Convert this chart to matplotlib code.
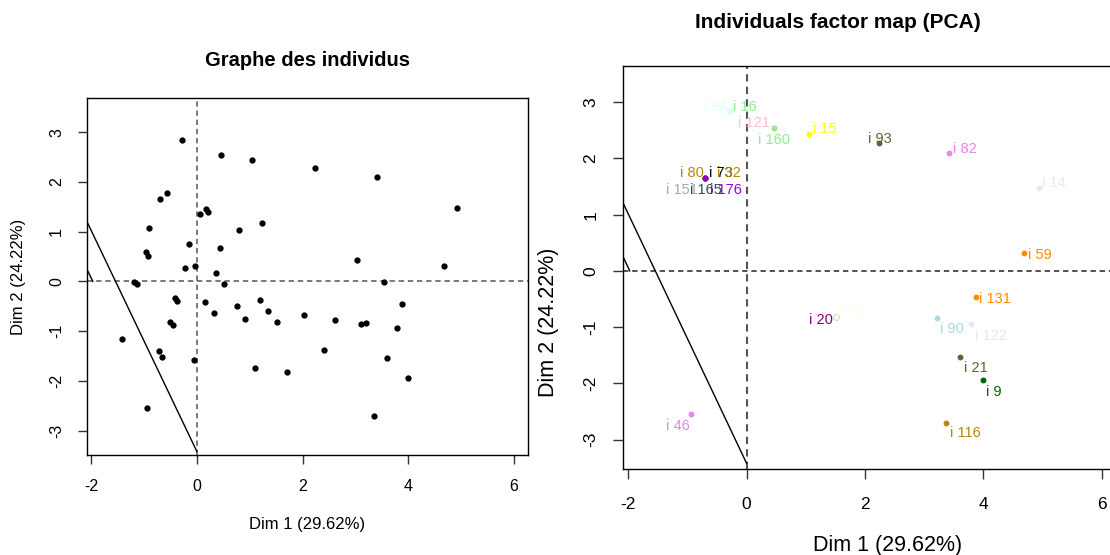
import matplotlib
matplotlib.use("Agg")
import matplotlib.pyplot as plt

plt.rcParams["font.family"] = ["Liberation Sans", "DejaVu Sans"]
plt.rcParams["axes.unicode_minus"] = False

# all individuals (left panel)
DIM1 = [-0.28, 0.46, 1.05, 2.23, -0.56, -0.70, 0.18, 0.21, 0.06, -0.90, 1.24,
        0.80, -0.15, 0.44, -0.97, -0.92, -0.23, -0.04, 0.36, -1.20, -1.13, 0.52,
        3.41, 4.93, 3.03, 4.68, 3.55,
        -0.42, -0.38, 0.16, 0.76, 1.19, 0.32, 0.92, 1.35, 1.51, 2.03, 2.62,
        -0.51, -0.46, -1.41, -0.71, -0.66, -0.06, 1.10, 1.71, -0.94,
        3.88, 3.11, 3.21, 3.79, 2.41, 3.60, 4.00, 3.36]
DIM2 = [2.84, 2.54, 2.44, 2.28, 1.77, 1.66, 1.46, 1.40, 1.35, 1.07, 1.17,
        1.03, 0.75, 0.67, 0.59, 0.51, 0.27, 0.31, 0.18, -0.01, -0.06, -0.05,
        2.10, 1.47, 0.43, 0.31, -0.02,
        -0.33, -0.40, -0.42, -0.50, -0.38, -0.64, -0.75, -0.60, -0.82, -0.68, -0.77,
        -0.82, -0.88, -1.16, -1.40, -1.51, -1.57, -1.75, -1.83, -2.55,
        -0.46, -0.86, -0.84, -0.94, -1.37, -1.53, -1.95, -2.70]

# selected individuals (right panel)
IND_NAMES = ["i 16", "i 94", "i 121", "i 160", "i 15", "i 93", "i 82", "i 14",
             "i 59", "i 131", "i 20", "i 71", "i 90", "i 122", "i 21", "i 9",
             "i 116", "i 46", "i 80", "i 73", "i 32", "i 151", "i 165", "i 176"]
IND_DIM1 = [-0.28, -0.28, 0.46, 0.46, 1.05, 2.23, 3.41, 4.93,
            4.68, 3.88, 1.51, 1.51, 3.21, 3.79, 3.60, 4.00,
            3.36, -0.94, -0.70, -0.70, -0.70, -0.70, -0.70, -0.70]
IND_DIM2 = [2.84, 2.84, 2.54, 2.54, 2.44, 2.28, 2.10, 1.47,
            0.31, -0.46, -0.82, -0.82, -0.84, -0.94, -1.53, -1.95,
            -2.70, -2.55, 1.66, 1.66, 1.66, 1.66, 1.66, 1.66]
IND_COLORS = ["lightgreen", "lightcyan", "pink", "lightgreen", "yellow",
              "darkolivegreen", "violet", "lavender", "darkorange", "darkorange",
              "darkmagenta", "lightyellow", "lightblue", "lavender",
              "darkolivegreen", "darkgreen", "darkgoldenrod", "violet",
              "darkgoldenrod", "black", "darkgoldenrod", "darkgray",
              "darkslategray", "darkviolet"]
# label shift from its point, pixels (right, down)
LABEL_SHIFT = [(14.7, -4.6), (-14.5, -4.6), (-20, -5), (0.5, 11.7), (16, -5),
               (1, -4), (16.5, -4.3), (15.5, -5), (16.5, 1.7), (19, 2.3),
               (-14.7, 2.7), (15.3, -5.6), (15.3, 11), (19.8, 12), (16, 11.3),
               (10.8, 11.3), (19.5, 10.3), (-13.2, 11.3), (-13.3, -5),
               (15.8, -5), (24.2, -5), (-23.3, 12.4), (0.8, 12.4), (20.8, 12.4)]

LINE_DIM1 = [-2.3, 0.0]
LINE_DIM2 = [1.69, -3.42]
SHORT_DIM1 = [-2.3, -1.97]
SHORT_DIM2 = [0.73, 0.0]

TICKS_X = [-2, 0, 2, 4, 6]
TICKS_Y = [-3, -2, -1, 0, 1, 2, 3]


def style_axes(ax, tick_size, tick_len, pad_x, pad_y):
    for s in ax.spines.values():
        s.set_linewidth(1.0)
        s.set_color("black")
    ax.set_xticks(TICKS_X)
    ax.set_yticks(TICKS_Y)
    ax.tick_params(axis="both", direction="out", length=tick_len, width=1.0,
                   color="#333333", labelsize=tick_size)
    ax.tick_params(axis="x", pad=pad_x)
    ax.tick_params(axis="y", pad=pad_y)
    for lab in ax.get_yticklabels():
        lab.set_rotation(90)
        lab.set_va("center")


def main() -> None:
    fig = plt.figure(figsize=(11.1, 5.55), dpi=100)

    # left: Graphe des individus
    ax1 = fig.add_axes([0.0784, 0.1802, 0.3973, 0.6432])
    ax1.axhline(0, color="#555555", ls=(0, (3.5, 2.5)), lw=1.1)
    ax1.axvline(0, color="#555555", ls=(0, (3.5, 2.5)), lw=1.1)
    ax1.plot(LINE_DIM1, LINE_DIM2, color="black", lw=1.0)
    ax1.plot(SHORT_DIM1, SHORT_DIM2, color="black", lw=1.0)
    ax1.plot(DIM1, DIM2, "o", color="black", ms=3.5, ls="none")
    ax1.set_xlim(-2.08, 6.27)
    ax1.set_ylim(-3.49, 3.69)
    style_axes(ax1, 11.5, 6.5, 10.5, 10)
    ax1.set_xlabel("Dim 1 (29.62%)", fontsize=12, va="center")
    ax1.xaxis.set_label_coords(0.5, -0.195)
    ax1.set_ylabel("Dim 2 (24.22%)", fontsize=12, va="center")
    ax1.yaxis.set_label_coords(-0.156, 0.5)
    ax1.set_title("Graphe des individus", fontsize=14.5, fontweight="bold",
                  y=1.104, va="center", pad=0)

    # right: Individuals factor map (PCA)
    ax2 = fig.add_axes([0.5615, 0.1544, 0.4457, 0.7272])
    ax2.axhline(0, color="#222222", ls=(0, (3.5, 2.5)), lw=1.1)
    ax2.axvline(0, color="#555555", ls=(0, (3.5, 2.5)), lw=1.5)
    ax2.plot(LINE_DIM1, LINE_DIM2, color="black", lw=1.0)
    ax2.plot(SHORT_DIM1, SHORT_DIM2, color="black", lw=1.0)
    for name, x, y, c, (dx, dy) in zip(IND_NAMES, IND_DIM1, IND_DIM2,
                                       IND_COLORS, LABEL_SHIFT):
        ax2.plot(x, y, "o", color=c, ms=3.2)
        ax2.annotate(name, (x, y), xytext=(dx, -dy), textcoords="offset pixels",
                     ha="center", va="center", color=c, fontsize=10.5)
    ax2.set_xlim(-2.08, 6.27)
    ax2.set_ylim(-3.53, 3.65)
    style_axes(ax2, 12.5, 7.5, 12.5, 10.5)
    ax2.set_xlabel("Dim 1 (29.62%)", fontsize=15.5, va="center")
    ax2.xaxis.set_label_coords(0.534, -0.19)
    ax2.set_ylabel("Dim 2 (24.22%)", fontsize=15.5, va="center")
    ax2.yaxis.set_label_coords(-0.152, 0.365)
    ax2.set_title("Individuals factor map (PCA)", fontsize=15, fontweight="bold",
                  x=0.434, y=1.106, va="center", pad=0)

    fig.savefig("out.png", dpi=100)
    plt.close(fig)


if __name__ == "__main__":
    main()
